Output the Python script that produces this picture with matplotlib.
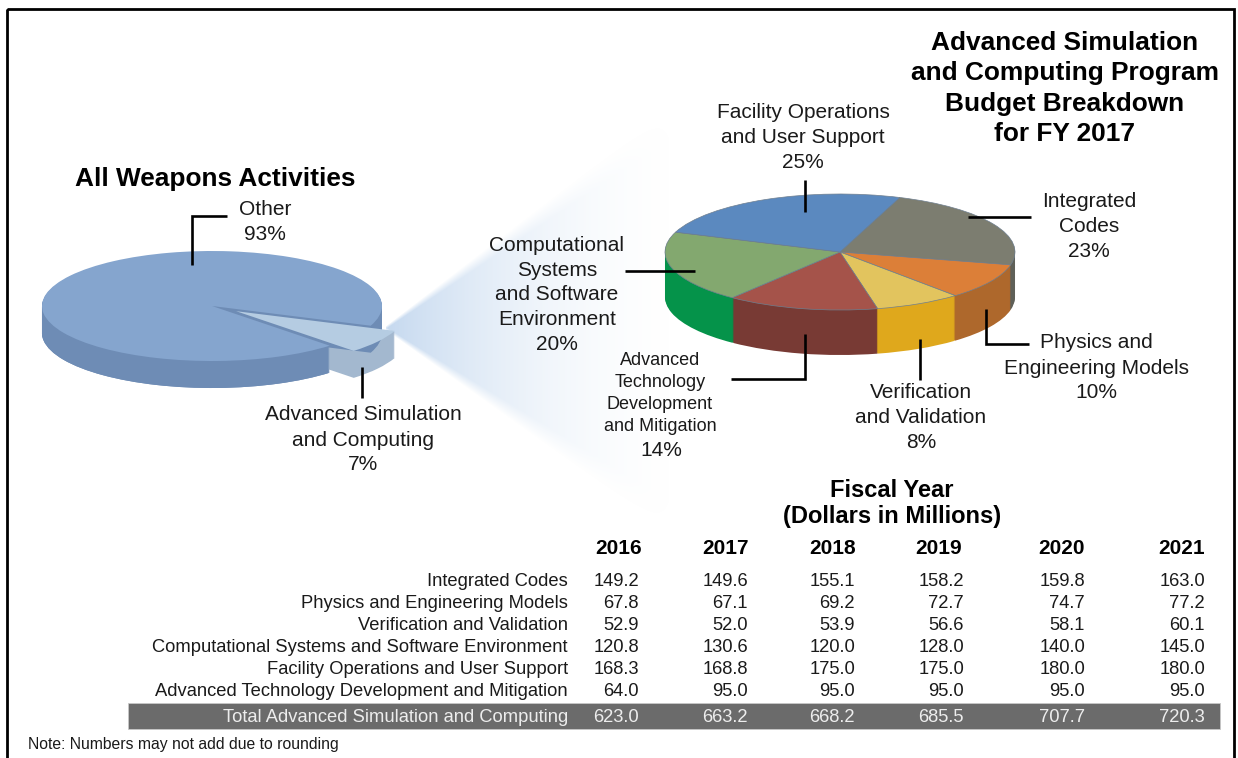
import numpy as np
import matplotlib
matplotlib.use('Agg')
import matplotlib.pyplot as plt
from matplotlib.patches import Rectangle

plt.rcParams['font.family'] = ['Liberation Sans', 'DejaVu Sans']

W, H = 1238, 758

# ---- data ----
overall_labels = ['Other', 'Advanced Simulation and Computing']
overall_shares = [93, 7]
program_labels = ['Integrated Codes', 'Physics and Engineering Models', 'Verification and Validation',
                  'Advanced Technology Development and Mitigation',
                  'Computational Systems and Software Environment', 'Facility Operations and User Support']
program_shares = [23, 10, 8, 14, 20, 25]
years = ['2016', '2017', '2018', '2019', '2020', '2021']
row_labels = ['Integrated Codes', 'Physics and Engineering Models', 'Verification and Validation',
              'Computational Systems and Software Environment', 'Facility Operations and User Support',
              'Advanced Technology Development and Mitigation']
integrated = ['149.2', '149.6', '155.1', '158.2', '159.8', '163.0']
physics = ['67.8', '67.1', '69.2', '72.7', '74.7', '77.2']
verification = ['52.9', '52.0', '53.9', '56.6', '58.1', '60.1']
computational = ['120.8', '130.6', '120.0', '128.0', '140.0', '145.0']
facility = ['168.3', '168.8', '175.0', '175.0', '180.0', '180.0']
advanced = ['64.0', '95.0', '95.0', '95.0', '95.0', '95.0']
total_label = 'Total Advanced Simulation and Computing'
totals = ['623.0', '663.2', '668.2', '685.5', '707.7', '720.3']

# ---- styles ----
top_colors = ['#7C7D70', '#DC7F38', '#E2C45E', '#A5534A', '#83A86F', '#5B89BF']
side_colors = ['#5F6058', '#AE682C', '#DFA81C', '#783A34', '#05934A', '#3F6FA6']
BODY = 15
TBL = 13.2
INK = '#1a1a1a'

fig = plt.figure(figsize=(W / 100, H / 100), dpi=100, facecolor='white')
bg = fig.add_axes([0, 0, 1, 1], zorder=0)
bg.axis('off')

# fan between the two pies
xs, ys = np.meshgrid(np.arange(370, 700), np.arange(90, 540))
u = np.clip((xs - 385) / 300.0, 0, 1)
y_top = 322 - (xs - 390) * 0.77
y_bot = 338 + (xs - 397) * 0.714
soft = 3 + (xs - 385) * 0.10
edge = np.clip((ys - y_top) / soft, 0, 1) * np.clip((y_bot - ys) / soft, 0, 1)
alpha = (1 - u) ** 1.8 * edge * (xs > 385)
fan = np.zeros(xs.shape + (4,))
fan[..., 0], fan[..., 1], fan[..., 2] = 0.70, 0.80, 0.92
fan[..., 3] = alpha * 0.75
bg.imshow(fan, extent=(370, 700, 540, 90), interpolation='bilinear', aspect='auto', zorder=1)
bg.set_xlim(0, W)
bg.set_ylim(H, 0)

# frame (runs off the bottom of the picture)
bg.add_patch(Rectangle((7, 9), 1227, 770, fill=False, ec='black', lw=2.0, zorder=5))


def pie_axes(cx, cy, a, b, depth, pad=40):
    """Axes whose unit circle is the ellipse of the pie's top face."""
    left = cx - a - pad
    right = cx + a + pad
    top = cy - b - pad
    bottom = cy + b + depth + pad
    ax = fig.add_axes([left / W, 1 - bottom / H, (right - left) / W, (bottom - top) / H], zorder=2)
    ax.axis('off')
    return ax, (left - cx) / a, (right - cx) / a, (cy - bottom) / b, (cy - top) / b


# left pie
a1, b1, d1 = 170, 55, 27
ax1, x0, x1, y0, y1 = pie_axes(212, 306, a1, b1, d1)
# wall of the main body, including the inner cut wall seen through the gap
for k in range(d1, 0, -1):
    ax1.pie(overall_shares, startangle=-21, counterclock=True,
            colors=['#6E8CB5', 'none'], center=(0, -k / b1), radius=1,
            wedgeprops={'linewidth': 0})
# wall of the pulled-out slice
for k in range(d1, 0, -1):
    ax1.pie(overall_shares, startangle=-21, counterclock=True,
            colors=['none', '#A3B8CF'], explode=[0, 0.17], center=(0, -k / b1), radius=1,
            wedgeprops={'linewidth': 0})
# front wall of the main body again, so it hides the slice's cut face
clip = Rectangle((x0, y0), 0.69 - x0, y1 - y0, transform=ax1.transData)
for k in range(d1, 0, -1):
    wedges, _ = ax1.pie(overall_shares, startangle=-21, counterclock=True,
                        colors=['#6E8CB5', 'none'], center=(0, -k / b1), radius=1,
                        wedgeprops={'linewidth': 0})
    for w in wedges:
        w.set_clip_path(clip)
ax1.pie(overall_shares, startangle=-21, counterclock=True,
        colors=['#85A5CE', 'none'], center=(0, 0), radius=1, wedgeprops={'linewidth': 0})
ax1.pie(overall_shares, startangle=-21, counterclock=True,
        colors=['none', '#B5CCE2'], explode=[0, 0.17], center=(0, 0), radius=1,
        wedgeprops={'linewidth': 0})
ax1.set_aspect('auto')
ax1.set_xlim(x0, x1)
ax1.set_ylim(y0, y1)

# right pie
a2, b2, d2 = 175, 58, 45
ax2, x0, x1, y0, y1 = pie_axes(840, 252, a2, b2, d2)
for k in range(d2, 0, -1):
    ax2.pie(program_shares, startangle=70, counterclock=False, colors=side_colors,
            center=(0, -k / b2), radius=1, wedgeprops={'linewidth': 0})
ax2.pie(program_shares, startangle=70, counterclock=False, colors=top_colors,
        center=(0, 0), radius=1, wedgeprops={'linewidth': 0.5, 'edgecolor': '#6f7f8f'})
ax2.set_aspect('auto')
ax2.set_xlim(x0, x1)
ax2.set_ylim(y0, y1)

# overlay for leaders and text
ov = fig.add_axes([0, 0, 1, 1], zorder=3)
ov.set_xlim(0, W)
ov.set_ylim(H, 0)
ov.axis('off')
ov.patch.set_alpha(0)


def leader(pts):
    x, y = zip(*pts)
    ov.plot(x, y, color='black', lw=1.9, solid_joinstyle='miter', solid_capstyle='butt')


leader([(192, 265), (192, 216), (227, 216)])
leader([(362, 367), (362, 398)])
leader([(805, 180), (805, 212)])
leader([(968, 217), (1031, 217)])
leader([(625, 271), (695, 271)])
leader([(986, 309), (986, 344), (1029, 344)])
leader([(920, 339), (920, 380)])
leader([(805, 334), (805, 379), (731, 379)])


def txt(x, y, s, size=BODY, weight='normal', color=INK, ha='center', ls=1.4):
    ov.text(x, y, s, fontsize=size, fontweight=weight, color=color, ha=ha, va='center',
            linespacing=ls, zorder=6)


txt(215, 179, 'All Weapons Activities', size=18.9, weight='bold', color='black')
txt(265, 222, 'Other\n93%')
txt(363, 440, 'Advanced Simulation\nand Computing\n7%')
txt(1065, 88.5, 'Advanced Simulation\nand Computing Program\nBudget Breakdown\nfor FY 2017', size=18.9,
    weight='bold', color='black', ls=1.33)
txt(803, 137.5, 'Facility Operations\nand User Support\n25%')
txt(1089, 226.5, 'Integrated\nCodes\n23%')
txt(1096, 368, 'Physics and\nEngineering Models\n10%')
txt(921, 417.5, 'Verification\nand Validation\n8%')
txt(557, 295, 'Computational\nSystems\nand Software\nEnvironment\n20%', ls=1.38)
txt(660, 393.5, 'Advanced\nTechnology\nDevelopment\nand Mitigation', size=13, ls=1.38)
txt(661, 450, '14%')
txt(892, 503.5, 'Fiscal Year\n(Dollars in Millions)', size=17, weight='bold', color='black', ls=1.2)

# table
head_x = [642, 749, 856, 962, 1085, 1205]
col_x = [639, 748, 855, 964, 1085, 1205]
for x, yr in zip(head_x, years):
    txt(x, 549, yr, size=15, weight='bold', color='black', ha='right')
rows = [integrated, physics, verification, computational, facility, advanced]
row_y = [581, 603, 625, 647, 669, 691]
for y, lab, vals in zip(row_y, row_labels, rows):
    txt(568, y, lab, size=TBL, ha='right')
    for x, v in zip(col_x, vals):
        txt(x, y, v, size=TBL, ha='right')
bg.add_patch(Rectangle((128, 703), 1092, 26, fc='#6B6B6B', ec='#C8C8C8', lw=0.6, zorder=2))
txt(568, 717, total_label, size=TBL, ha='right', color='#EDEDED')
for x, v in zip(col_x, totals):
    txt(x, 717, v, size=TBL, color='#EDEDED', ha='right')
txt(28, 745, 'Note: Numbers may not add due to rounding', size=11.3, ha='left')

fig.savefig('out.png', dpi=100)
